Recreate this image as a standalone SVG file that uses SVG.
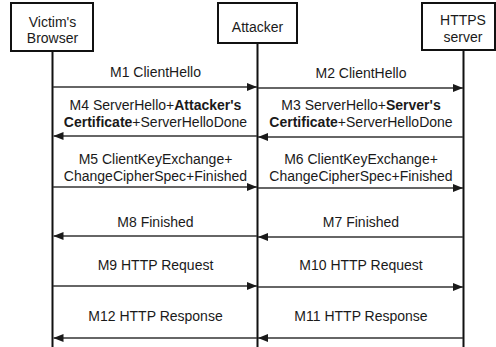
<svg xmlns="http://www.w3.org/2000/svg" width="496" height="347" viewBox="0 0 496 347">
  <defs>
    <marker id="ah" markerUnits="userSpaceOnUse" markerWidth="10" markerHeight="8" refX="10" refY="4" orient="auto">
      <path d="M0,0 L10,4 L0,8 z" fill="#1a1a1a"/>
    </marker>
  </defs>
  <style>
    .box { fill: #ffffff; stroke: #111111; stroke-width: 2; }
    .life { stroke: #111111; stroke-width: 2; }
    .msg { stroke: #333333; stroke-width: 1.6; fill: none; marker-end: url(#ah); }
    text { font-family: "Liberation Sans", Arial, sans-serif; font-size: 14px; fill: #1a1a1a; text-anchor: middle; }
    .b { font-weight: bold; }
  </style>
  <rect x="0" y="0" width="496" height="347" fill="#ffffff"/>

  <g id="victim">
    <line class="life" x1="52.5" y1="51" x2="52.5" y2="347"/>
    <rect class="box" x="11" y="3" width="82" height="48"/>
    <text x="52.5" y="27">Victim's</text>
    <text x="52.5" y="43">Browser</text>
  </g>

  <g id="attacker">
    <line class="life" x1="257.5" y1="43" x2="257.5" y2="347"/>
    <rect class="box" x="218" y="3" width="79" height="40"/>
    <text x="257.5" y="32">Attacker</text>
  </g>

  <g id="server">
    <line class="life" x1="463.5" y1="50" x2="463.5" y2="347"/>
    <rect class="box" x="422" y="3" width="73" height="47"/>
    <text x="463" y="25">HTTPS</text>
    <text x="463" y="42">server</text>
  </g>

  <g id="connectors">
    <line class="msg" x1="53" y1="87" x2="257" y2="87"/>
    <text x="155.5" y="77">M1 ClientHello</text>

    <line class="msg" x1="258" y1="88" x2="463" y2="88"/>
    <text x="361" y="78">M2 ClientHello</text>

    <line class="msg" x1="463" y1="137" x2="258" y2="137"/>
    <text x="361" y="110">M3 ServerHello+<tspan class="b">Server's</tspan></text>
    <text x="361" y="127"><tspan class="b">Certificate</tspan>+ServerHelloDone</text>

    <line class="msg" x1="257" y1="136" x2="53.5" y2="136"/>
    <text x="155.5" y="110">M4 ServerHello+<tspan class="b">Attacker's</tspan></text>
    <text x="155.5" y="127"><tspan class="b">Certificate</tspan>+ServerHelloDone</text>

    <line class="msg" x1="53" y1="187" x2="257" y2="187"/>
    <text x="155.5" y="164">M5 ClientKeyExchange+</text>
    <text x="155.5" y="181">ChangeCipherSpec+Finished</text>

    <line class="msg" x1="258" y1="188" x2="463" y2="188"/>
    <text x="361" y="164">M6 ClientKeyExchange+</text>
    <text x="361" y="181">ChangeCipherSpec+Finished</text>

    <line class="msg" x1="463" y1="237" x2="258" y2="237"/>
    <text x="361" y="227">M7 Finished</text>

    <line class="msg" x1="257" y1="236" x2="53.5" y2="236"/>
    <text x="155.5" y="227">M8 Finished</text>

    <line class="msg" x1="53" y1="286" x2="257" y2="286"/>
    <text x="155.5" y="270">M9 HTTP Request</text>

    <line class="msg" x1="258" y1="287" x2="463" y2="287"/>
    <text x="361" y="270">M10 HTTP Request</text>

    <line class="msg" x1="463" y1="338" x2="258" y2="338"/>
    <text x="361" y="321">M11 HTTP Response</text>

    <line class="msg" x1="257" y1="338" x2="53.5" y2="338"/>
    <text x="155.5" y="321">M12 HTTP Response</text>
  </g>
</svg>
